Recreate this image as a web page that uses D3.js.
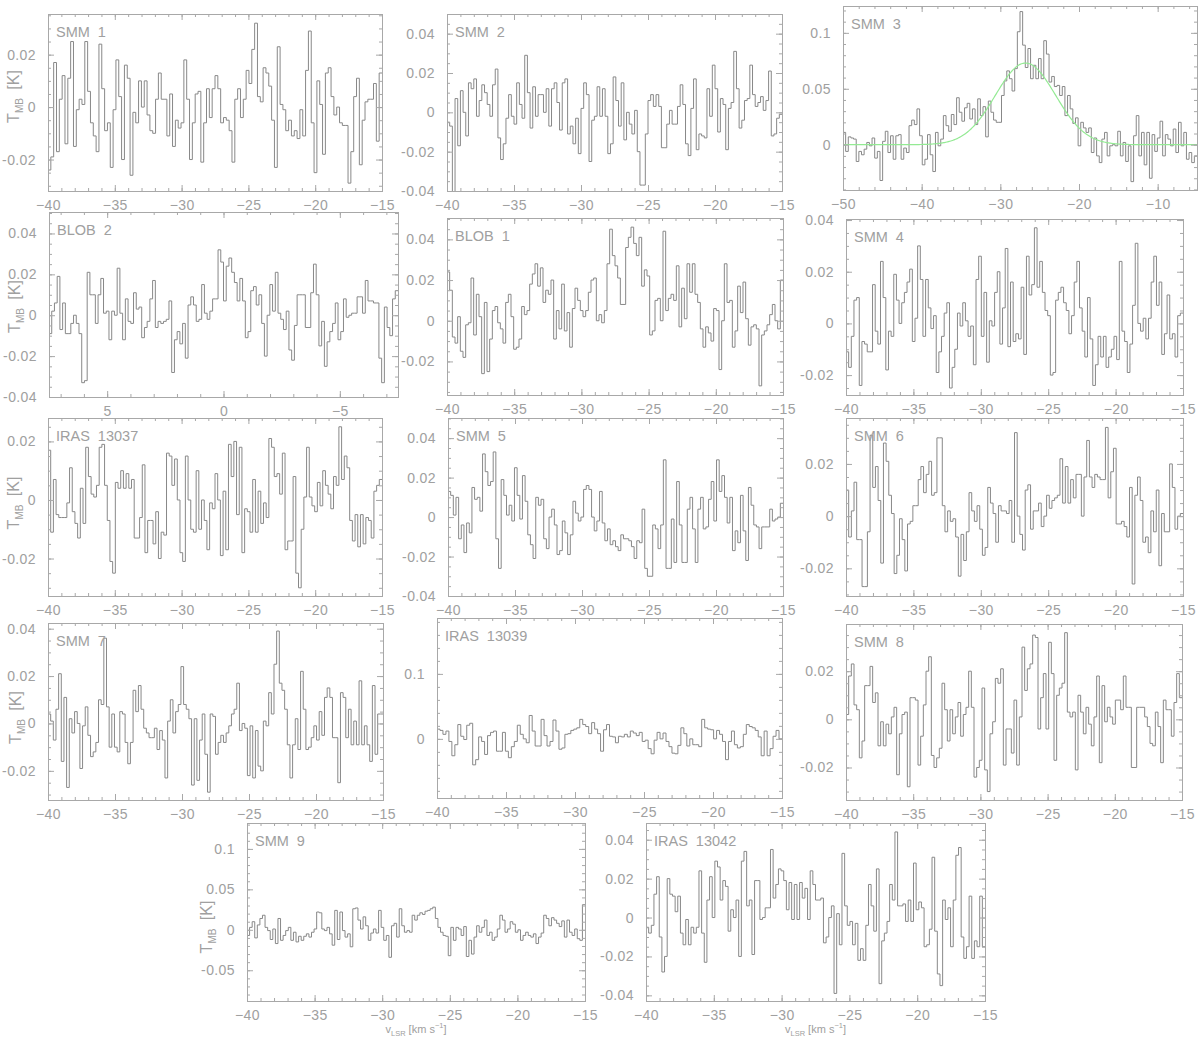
<!DOCTYPE html>
<html>
<head>
<meta charset="utf-8">
<script src="https://cdn.jsdelivr.net/npm/d3@7"></script>
<style>
  body { margin: 0; background: #fff; }
  svg text { font-family: "Liberation Sans", Arial, sans-serif; fill: #a0a0a0; }
  .tick line { stroke: #a8a8a8; }
  .tick text { font-size: 14px; letter-spacing: 0.4px; }
</style>
</head>
<body>
<svg id="chart" width="1200" height="1042"></svg>
<script>
// spectra, one value per channel, in mK
const smm1 = [-24,-19,17,-17,3,12,-14,11,25,-15,-1,3,1,25,6,-6,-11,-17,24,7,-9,-6,-23,-1,18,4,-20,16,11,-26,
  -2,-6,10,0,10,-3,-9,-10,3,13,3,3,-11,5,-15,-5,-8,-6,18,3,-20,-6,5,6,-21,-6,7,-4,7,12,
  7,-6,-4,-5,-9,-21,3,7,-4,3,14,9,22,32,4,2,15,13,8,-5,-23,23,1,-1,-9,-5,-11,-9,-12,-1,
  -11,14,29,-6,-25,10,1,-18,13,15,4,-3,0,-6,-7,-7,-29,-17,4,11,-22,-5,2,3,3,9,-13,13];
const smm2 = [-5,-7,-45,7,-17,11,0,-12,15,12,17,-2,6,14,10,4,-2,14,22,-13,-24,-16,-3,9,-2,-6,15,4,-3,29,
  10,-8,13,-2,9,9,0,12,-7,12,15,5,-9,15,17,-11,-7,-16,-3,-21,2,15,9,-25,-4,-2,13,-2,12,-2,
  -21,-16,18,6,-7,15,-14,0,-6,-11,1,-20,-37,-37,-11,6,9,3,9,3,-18,-18,-6,1,-6,-6,3,14,4,-16,
  -22,2,17,-19,-11,-12,-13,12,-2,24,12,-10,7,4,-19,2,5,31,12,-8,-4,6,7,24,9,3,5,8,1,6,
  21,-12,-11,-3,-1];
const smm3 = [11,-6,7,6,5,-15,-6,-9,-4,2,-1,6,-12,-6,-32,3,12,-7,8,-13,8,9,-13,-3,-7,17,22,18,32,8,
  -18,-13,9,-9,-24,11,-1,5,26,17,12,27,18,42,29,21,33,37,23,32,18,41,26,34,7,39,29,22,20,20,
  44,57,66,59,48,68,101,119,89,69,86,59,71,59,77,59,93,81,56,61,52,53,44,52,26,44,32,19,24,-1,
  20,15,11,15,-7,6,-10,-16,5,11,-10,-1,0,-1,12,-10,2,-15,-1,-33,8,26,-10,11,-18,11,-30,9,-6,6,
  21,-10,9,5,-1,14,-7,20,-1,11,-13,-7,-16,-10];
const blob2 = [-9,2,6,19,-7,6,-9,-9,-4,0,-4,-9,-33,-32,21,10,10,-4,10,18,1,2,-12,2,0,23,1,-12,8,-3,
  -4,11,3,4,-11,-6,-3,8,17,-6,-3,-4,-3,-2,7,-28,-12,-8,-14,-4,-21,5,9,5,-3,-2,15,1,-2,2,
  8,8,32,26,7,24,28,21,16,7,18,7,-11,-8,12,14,5,10,-4,-20,0,15,2,21,1,-2,-7,2,-17,-22,
  -5,10,10,10,-6,-6,11,25,10,-15,-3,-25,-13,-8,-4,6,-12,-8,8,-1,0,1,1,9,9,1,17,7,7,6,
  6,-21,-33,4,-6,-10,8,12];
const blob1 = [24,15,-8,-11,2,-15,-18,-2,-1,21,-7,13,2,-26,9,-25,-9,5,7,-1,-4,-11,9,13,2,-14,-13,-9,7,3,
  5,18,23,28,17,26,9,15,13,20,-9,5,-4,18,-5,4,-13,6,16,10,5,2,5,14,20,21,0,3,-1,5,
  28,45,32,27,21,8,8,36,41,46,38,32,41,17,25,22,-7,-5,10,11,0,44,5,11,13,10,27,-3,16,1,
  28,14,28,13,9,-4,-13,-3,-6,-10,6,5,-24,0,28,9,10,-13,-5,17,4,19,1,-12,-3,-2,-4,-32,-7,-5,
  -2,3,8,0,-4,20];
const smm4 = [-11,-17,-5,9,10,-24,-7,-8,-11,-11,15,-3,-8,24,10,-18,-3,-5,19,9,0,8,12,16,21,-7,2,30,17,-5,
  17,6,-2,3,-19,-11,-5,4,8,-25,-17,-10,4,-1,8,1,-5,-1,-16,17,26,-5,12,-15,1,-1,12,20,-8,6,
  29,-9,16,-7,-4,-6,14,-12,26,11,15,37,14,24,12,5,3,-20,-19,9,12,14,8,5,-4,3,16,24,6,-3,
  -13,10,-6,-24,-16,-5,-13,-5,-17,-13,-10,-5,-14,24,-3,-7,-19,-8,7,31,0,-3,2,-6,2,16,26,7,16,-12,
  -4,11,-6,-4,-13,3,4];
const iras13037 = [17,-11,7,-5,-6,-6,-6,-1,11,-4,-8,-13,4,-8,18,8,2,1,5,18,19,5,-7,-21,-25,6,4,10,4,9,
  4,7,-13,-13,-6,12,-18,-7,-7,-15,-4,-20,-11,-12,16,15,5,14,0,-18,-21,15,0,-10,-11,10,-10,0,-7,-17,
  -1,-3,9,0,-19,3,-17,19,8,20,-5,18,-18,-3,-4,-11,7,-11,3,-8,-1,-6,21,18,8,9,2,16,-17,-14,
  -14,8,-25,-30,-10,1,18,1,-2,-4,6,-2,10,5,2,-3,8,5,25,7,15,11,-7,-14,-5,-16,-5,-15,-6,-7,
  -13,3,5,7];
const smm5 = [13,11,1,10,-11,-4,-18,-3,-8,15,9,10,3,32,23,16,18,33,-11,-26,19,11,1,6,-2,25,11,-1,21,8,
  -9,-14,-21,10,6,9,-11,-16,0,4,-4,-19,-17,-2,-8,-19,-9,8,2,-2,0,14,16,14,0,-7,-2,13,-3,-12,
  -6,-14,-12,-15,-17,-9,-11,-11,-12,-15,-21,-12,-13,4,-26,-30,-30,-4,-6,-16,-4,29,-26,-26,-1,-23,18,-4,-23,-23,
  4,10,-6,-23,4,10,-6,-5,9,18,-2,29,13,21,10,-3,10,-17,-7,-13,11,-7,-22,15,6,-4,-5,-16,-5,-5,
  -5,4,-2,-1,0,7];
const smm6 = [10,-8,2,13,-9,-9,-27,-27,-6,31,11,19,6,-18,28,21,8,1,-22,-15,-1,-9,-21,-3,-2,4,4,14,19,9,
  16,21,8,9,30,30,4,-6,2,-2,-1,-8,-23,-7,-17,-6,9,2,-2,4,-5,-15,-12,11,5,1,-10,4,2,2,
  1,6,-10,32,0,-7,-13,10,12,-5,2,2,5,-4,0,8,3,6,7,8,22,5,19,5,14,7,16,16,0,15,
  29,15,11,16,15,14,14,34,7,17,26,-3,-3,-2,-4,-8,11,-26,8,15,6,-10,-8,-14,2,-6,10,-19,1,-6,
  -6,20,11,-5,0,1];
const smm7 = [4,1,-7,6,21,-16,11,-27,2,-4,5,0,-19,-1,7,-5,-14,-12,-8,10,8,36,7,-10,4,-10,-12,5,4,-8,
  -17,-8,14,5,16,6,-2,-4,-6,-6,-2,-11,-3,-7,-23,1,10,-4,5,8,24,8,6,2,-26,2,-24,-7,4,-13,
  -29,4,3,-13,-8,-5,-8,-4,-1,4,6,17,-3,0,-2,-22,-1,-23,-3,-18,-20,1,-1,13,4,25,39,17,14,6,
  -9,-23,-9,2,-11,22,6,-11,-10,-6,-1,-7,5,-5,11,15,11,-6,-6,-25,13,11,-6,6,-9,1,-9,18,-9,-1,
  -9,-16,16,-13,4,4];
const iras13039 = [15,13,7,12,-4,-26,-9,22,4,-1,21,24,-40,-32,3,-4,-24,5,10,12,-19,-19,10,-19,-29,-12,-4,21,7,0,
  -6,36,12,-11,-11,30,5,-11,-4,29,12,-16,-14,7,8,13,15,17,30,22,19,8,25,15,8,-19,14,
  22,4,3,-6,4,3,7,3,12,9,5,10,-4,-2,-15,-23,-2,10,0,9,-4,-12,-22,-23,-10,17,8,-11,0,-9,
  -9,-12,30,17,15,14,0,13,7,-4,-32,-4,12,-9,-14,-12,7,22,19,17,13,3,-26,12,-26,-15,4,13,0];
const smm8 = [2,18,23,6,4,-16,-9,14,14,22,7,11,-11,-1,-11,-2,-6,1,5,-23,-6,2,3,-28,9,9,8,-19,-7,6,
  20,26,-15,-20,-16,-12,15,4,-9,4,-6,1,7,-7,2,5,20,5,-24,-20,-17,13,-21,-30,-6,-1,17,15,21,-19,
  -4,-4,-14,8,-19,1,30,12,21,23,35,34,-4,9,19,-4,32,19,-17,10,13,15,36,3,1,3,-21,10,3,-6,
  5,-2,-11,1,18,-18,14,-1,5,1,-2,8,8,4,18,5,5,-20,-20,5,5,5,1,-3,-10,-11,3,-3,-18,8,
  4,4,-7,7,19,9];
const smm9 = [-7,3,10,-10,6,14,18,3,-1,-12,1,-17,14,-13,-7,-1,3,-13,-3,-15,-8,-13,-8,-5,-9,-3,1,22,21,1,
  -1,3,-5,-19,24,-12,22,-1,-9,-5,-21,26,27,12,1,16,5,-13,-4,1,-4,24,3,-13,-7,-34,5,8,-9,26,
  5,-3,-1,-3,18,12,18,21,19,23,24,26,28,14,3,-3,-7,-8,-32,3,-13,3,1,-7,4,-33,-13,-30,-9,5,
  -3,3,12,-7,-3,-13,-9,1,18,12,-3,1,10,7,-3,0,-13,-7,-3,-7,-9,-5,-17,-9,-4,18,14,5,15,12,
  8,4,11,-9,12,-3,-7,1,-11,-13,31];
const iras13042 = [-5,-8,-4,12,21,-10,-28,-20,20,12,11,3,11,-8,-14,-1,-14,-5,-8,-5,24,-8,-23,9,21,0,29,26,9,19,
  16,-7,4,0,9,-20,29,34,6,9,-19,19,19,-1,0,5,5,35,10,17,25,24,19,4,18,-1,17,-1,18,10,
  15,-1,24,17,9,9,10,-13,-10,0,6,-39,2,-14,33,6,-4,-2,-14,-3,-22,-16,-22,-4,17,6,-7,25,-34,-12,
  -8,-2,17,9,44,6,6,7,-2,9,-2,28,4,8,5,-15,-14,-6,31,-7,-29,-35,9,-1,5,-15,9,32,36,-10,
  -21,-15,11,-21,-12,-15,11,-15];

// Gaussian fit to SMM 3 (K, km/s)
const smm3Fit = { amp: 0.073, centre: -26.8, fwhm: 9.0 };

// axis ranges and tick labels
const velStd = [-40, -15];
const xTicksStd = [-40, -35, -30, -25, -20, -15];
const velSmm3 = [-50, -5];
const xTicksSmm3 = [-50, -40, -30, -20, -10];
const velBlob2 = [7.5, -7.5];
const xTicksBlob2 = [5, 0, -5];

const panels = [
  { name: 'SMM 1', data: smm1, vel: velStd, xTicks: xTicksStd, xMinor: 1, yDom: [-0.032, 0.0355], yTicks: [-0.02, 0, 0.02], yMinor: 0.005 },
  { name: 'SMM 2', data: smm2, vel: velStd, xTicks: xTicksStd, xMinor: 1, yDom: [-0.04, 0.05], yTicks: [-0.04, -0.02, 0, 0.02, 0.04], yMinor: 0.005 },
  { name: 'SMM 3', data: smm3, vel: velSmm3, xTicks: xTicksSmm3, xMinor: 2, yDom: [-0.0405, 0.124], yTicks: [0, 0.05, 0.1], yMinor: 0.01, fit: smm3Fit },
  { name: 'BLOB 2', data: blob2, vel: velBlob2, xTicks: xTicksBlob2, xMinor: 1, yDom: [-0.04, 0.0505], yTicks: [-0.04, -0.02, 0, 0.02, 0.04], yMinor: 0.005 },
  { name: 'BLOB 1', data: blob1, vel: velStd, xTicks: xTicksStd, xMinor: 1, yDom: [-0.0365, 0.0505], yTicks: [-0.02, 0, 0.02, 0.04], yMinor: 0.005 },
  { name: 'SMM 4', data: smm4, vel: velStd, xTicks: xTicksStd, xMinor: 1, yDom: [-0.0277, 0.0404], yTicks: [-0.02, 0, 0.02, 0.04], yMinor: 0.005 },
  { name: 'IRAS 13037', data: iras13037, vel: velStd, xTicks: xTicksStd, xMinor: 1, yDom: [-0.0328, 0.028], yTicks: [-0.02, 0, 0.02], yMinor: 0.005 },
  { name: 'SMM 5', data: smm5, vel: velStd, xTicks: xTicksStd, xMinor: 1, yDom: [-0.04, 0.0502], yTicks: [-0.04, -0.02, 0, 0.02, 0.04], yMinor: 0.005 },
  { name: 'SMM 6', data: smm6, vel: velStd, xTicks: xTicksStd, xMinor: 1, yDom: [-0.0306, 0.0376], yTicks: [-0.02, 0, 0.02], yMinor: 0.005 },
  { name: 'SMM 7', data: smm7, vel: velStd, xTicks: xTicksStd, xMinor: 1, yDom: [-0.0323, 0.0424], yTicks: [-0.02, 0, 0.02, 0.04], yMinor: 0.005 },
  { name: 'IRAS 13039', data: iras13039, vel: velStd, xTicks: xTicksStd, xMinor: 1, yDom: [-0.091, 0.186], yTicks: [0, 0.1], yMinor: 0.02 },
  { name: 'SMM 8', data: smm8, vel: velStd, xTicks: xTicksStd, xMinor: 1, yDom: [-0.0335, 0.0396], yTicks: [-0.02, 0, 0.02], yMinor: 0.005 },
  { name: 'SMM 9', data: smm9, vel: velStd, xTicks: xTicksStd, xMinor: 1, yDom: [-0.088, 0.132], yTicks: [-0.05, 0, 0.05, 0.1], yMinor: 0.01 },
  { name: 'IRAS 13042', data: iras13042, vel: velStd, xTicks: xTicksStd, xMinor: 1, yDom: [-0.0429, 0.0486], yTicks: [-0.04, -0.02, 0, 0.02, 0.04], yMinor: 0.005 }
];

// where each panel's frame sits on the page
const layout = {
  'SMM 1':      { x0: 48,  x1: 382,  y0: 14,  y1: 191, yTitle: 34, yTitleDy: -6 },
  'SMM 2':      { x0: 447, x1: 782,  y0: 14,  y1: 191 },
  'SMM 3':      { x0: 843, x1: 1197, y0: 6,   y1: 190 },
  'BLOB 2':     { x0: 49,  x1: 398,  y0: 212, y1: 397, yTitle: 34, yTitleDy: 2 },
  'BLOB 1':     { x0: 447, x1: 783,  y0: 218, y1: 395 },
  'SMM 4':      { x0: 846, x1: 1183, y0: 219, y1: 395 },
  'IRAS 13037': { x0: 48,  x1: 382,  y0: 418, y1: 596, yTitle: 34, yTitleDy: -4 },
  'SMM 5':      { x0: 448, x1: 783,  y0: 418, y1: 596 },
  'SMM 6':      { x0: 846, x1: 1183, y0: 418, y1: 596 },
  'SMM 7':      { x0: 48,  x1: 383,  y0: 623, y1: 800, yTitle: 32, yTitleDy: 6 },
  'IRAS 13039': { x0: 437, x1: 782,  y0: 618, y1: 798 },
  'SMM 8':      { x0: 846, x1: 1182, y0: 624, y1: 800 },
  'SMM 9':      { x0: 247, x1: 585,  y0: 823, y1: 1001, yTitle: 40, yTitleDy: 15, xTitle: true },
  'IRAS 13042': { x0: 646, x1: 985,  y0: 823, y1: 1001, xTitle: true }
};

const fmtY = d => d === 0 ? '0' : (d < 0 ? '-' : '') + Math.abs(d);
const fmtX = d => d < 0 ? '\u2212' + Math.abs(d) : String(d);

function minorValues(domain, step) {
  const lo = Math.min(domain[0], domain[1]), hi = Math.max(domain[0], domain[1]);
  return d3.range(Math.ceil(lo / step - 1e-6), Math.floor(hi / step + 1e-6) + 1).map(k => +(k * step).toFixed(6));
}

const svg = d3.select('#chart');

function addAxis(g, make, scale, tx, ty, major, minor, fmt, pad) {
  g.append('g').attr('transform', 'translate(' + tx + ',' + ty + ')')
    .call(make(scale).tickValues(minor).tickSize(-3).tickFormat(''))
    .call(s => s.select('.domain').remove());
  g.append('g').attr('transform', 'translate(' + tx + ',' + ty + ')')
    .call(make(scale).tickValues(major).tickSize(-6).tickPadding(pad || 0).tickFormat(fmt || ''))
    .call(s => s.select('.domain').remove())
    .attr('font-size', null).attr('font-family', null);
}

panels.forEach(function(p, i) {
  const b = layout[p.name];
  const x = d3.scaleLinear().domain(p.vel).range([b.x0, b.x1]);
  const y = d3.scaleLinear().domain(p.yDom).range([b.y1, b.y0]);
  const g = svg.append('g').attr('class', 'panel');

  g.append('clipPath').attr('id', 'clip' + i).append('rect')
    .attr('x', b.x0).attr('y', b.y0)
    .attr('width', b.x1 - b.x0).attr('height', b.y1 - b.y0);

  // channel edges -> histogram style steps
  const dv = (p.vel[1] - p.vel[0]) / p.data.length;
  const steps = p.data.map((t, k) => [p.vel[0] + k * dv, t / 1000]);
  steps.push([p.vel[1], p.data[p.data.length - 1] / 1000]);

  const line = d3.line().x(d => x(d[0])).y(d => y(d[1])).curve(d3.curveStepAfter);
  const plot = g.append('g').attr('clip-path', 'url(#clip' + i + ')');
  plot.append('path').datum(steps)
    .attr('d', line)
    .attr('fill', 'none')
    .attr('stroke', '#888')
    .attr('stroke-width', 1);

  if (p.fit) {
    const sigma = p.fit.fwhm / (2 * Math.sqrt(2 * Math.log(2)));
    const vs = d3.range(p.vel[0], p.vel[1] + 0.01, 0.1);
    const fitPts = vs.map(v => [v, p.fit.amp * Math.exp(-0.5 * Math.pow((v - p.fit.centre) / sigma, 2))]);
    plot.append('path').datum(fitPts)
      .attr('d', d3.line().x(d => x(d[0])).y(d => y(d[1])))
      .attr('fill', 'none')
      .attr('stroke', '#94ea94')
      .attr('stroke-width', 1.2);
  }

  // frame
  g.append('rect')
    .attr('x', b.x0 + 0.5).attr('y', b.y0 + 0.5)
    .attr('width', b.x1 - b.x0).attr('height', b.y1 - b.y0)
    .attr('fill', 'none').attr('stroke', '#a8a8a8');

  const xMin = minorValues(p.vel, p.xMinor);
  const yMin = minorValues(p.yDom, p.yMinor);
  addAxis(g, d3.axisBottom, x, 0, b.y1, p.xTicks, xMin, fmtX, 9);
  addAxis(g, d3.axisTop, x, 0, b.y0, p.xTicks, xMin, null);
  addAxis(g, d3.axisLeft, y, b.x0, 0, p.yTicks, yMin, fmtY, 12);
  addAxis(g, d3.axisRight, y, b.x1, 0, p.yTicks, yMin, null);

  // panel name
  g.append('text')
    .attr('x', b.x0 + 8).attr('y', b.y0 + 23)
    .attr('font-size', 14.5).attr('word-spacing', 4)
    .text(p.name);

  if (b.yTitle) {
    const t = g.append('text')
      .attr('transform', 'translate(' + (b.x0 - b.yTitle + 5) + ',' + ((b.y0 + b.y1) / 2 + b.yTitleDy) + ') rotate(-90)')
      .attr('text-anchor', 'middle').attr('font-size', 16);
    t.append('tspan').text('T');
    t.append('tspan').attr('font-size', 10).attr('dy', 4).text('MB');
    t.append('tspan').attr('dy', -4).attr('word-spacing', 4).text(' [K]');
  }

  if (b.xTitle) {
    const t = g.append('text')
      .attr('x', (b.x0 + b.x1) / 2).attr('y', b.y1 + 32)
      .attr('text-anchor', 'middle').attr('font-size', 11);
    t.append('tspan').text('v');
    t.append('tspan').attr('font-size', 7.5).attr('dy', 3).text('LSR');
    t.append('tspan').attr('dy', -3).text(' [km s');
    t.append('tspan').attr('font-size', 7.5).attr('dy', -5).text('\u22121');
    t.append('tspan').attr('dy', 5).text(']');
  }
});
</script>
</body>
</html>
